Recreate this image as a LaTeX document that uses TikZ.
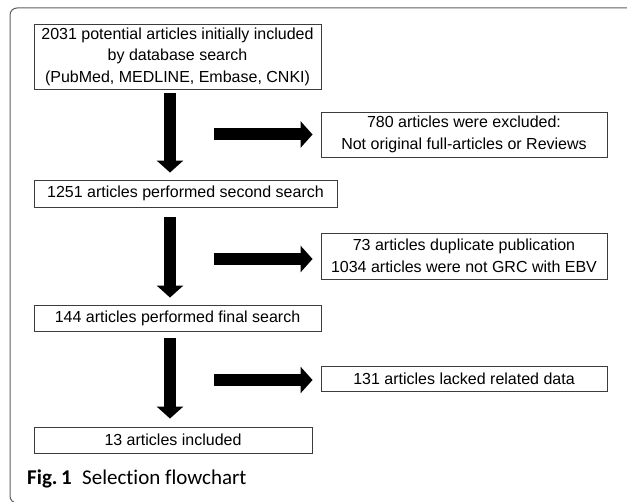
\documentclass[tikz,border=0pt]{standalone}
\usepackage{fontspec}
\setmainfont{Liberation Sans}
\newfontfamily\captionfont[Ligatures={NoCommon}]{Carlito}
\usepackage{tikz}
\usetikzlibrary{arrows.meta,positioning}
\definecolor{framegrey}{RGB}{95,95,95}
\definecolor{boxline}{RGB}{60,60,60}
\tikzset{
  blockflow/.style={-{Triangle[length=12pt,width=26pt]}, line width=12pt, draw=black},
  box/.style={
    draw=boxline,
    line width=0.9pt,
    fill=white,
    align=center,
    inner sep=0pt,
    font=\fontsize{16}{21.6}\selectfont
  },
  frame/.style={draw=framegrey, line width=1pt, rounded corners=7pt}
}

\begin{document}
\begin{tikzpicture}[x=1pt,y=-1pt]
  \useasboundingbox (0,0) rectangle (627,502);
  \draw[frame] (10,8) rectangle (660,503);

  % Main path
  \node[box,minimum width=287pt,minimum height=65pt] (initial) at (177.5,56.5)
    {2031 potential articles initially included\\by database search\\(PubMed, MEDLINE, Embase, CNKI)};
  \node[box,minimum width=303pt,minimum height=27pt] (second) at (185.5,193.5) {1251 articles performed second search};
  \node[box,minimum width=287pt,minimum height=26pt] (final) at (177.5,318) {144 articles performed final search};
  \node[box,minimum width=278pt,minimum height=26pt] (included) at (173,440) {13 articles included};

  % Exclusions
  \node[box,minimum width=286pt,minimum height=45pt] (excl1) at (464,134.5)
    {780 articles were excluded:\\Not original full-articles or Reviews};
  \node[box,minimum width=286pt,minimum height=46pt] (excl2) at (464,256)
    {73 articles duplicate publication\\1034 articles were not GRC with EBV};
  \node[box,minimum width=286pt,minimum height=25pt] (excl3) at (464,378.5) {131 articles lacked related data};

  % Arrow columns
  \coordinate (down) at (170,0);
  \coordinate (side) at (214,0);

  \draw[blockflow] ([yshift=-4pt]initial.south -| down) -- ([yshift=7pt]second.north -| down);
  \draw[blockflow] ([yshift=-10pt]second.south -| down) -- ([yshift=7pt]final.north -| down);
  \draw[blockflow] ([yshift=-7pt]final.south -| down) -- ([yshift=8pt]included.north -| down);

  \draw[blockflow] (excl1.west -| side) -- ([xshift=-8pt]excl1.west);
  \draw[blockflow] ([yshift=-3pt]excl2.west -| side) -- ([xshift=-8pt,yshift=-3pt]excl2.west);
  \draw[blockflow] ([yshift=-1.5pt]excl3.west -| side) -- ([xshift=-8pt,yshift=-1.5pt]excl3.west);

  \node[anchor=base west,inner sep=0pt,font=\captionfont\fontsize{21}{23}\selectfont] (caption) at (27,485)
    {\textbf{Fig.\,1}\hspace{0.5em}Selection flowchart};
\end{tikzpicture}
\end{document}
